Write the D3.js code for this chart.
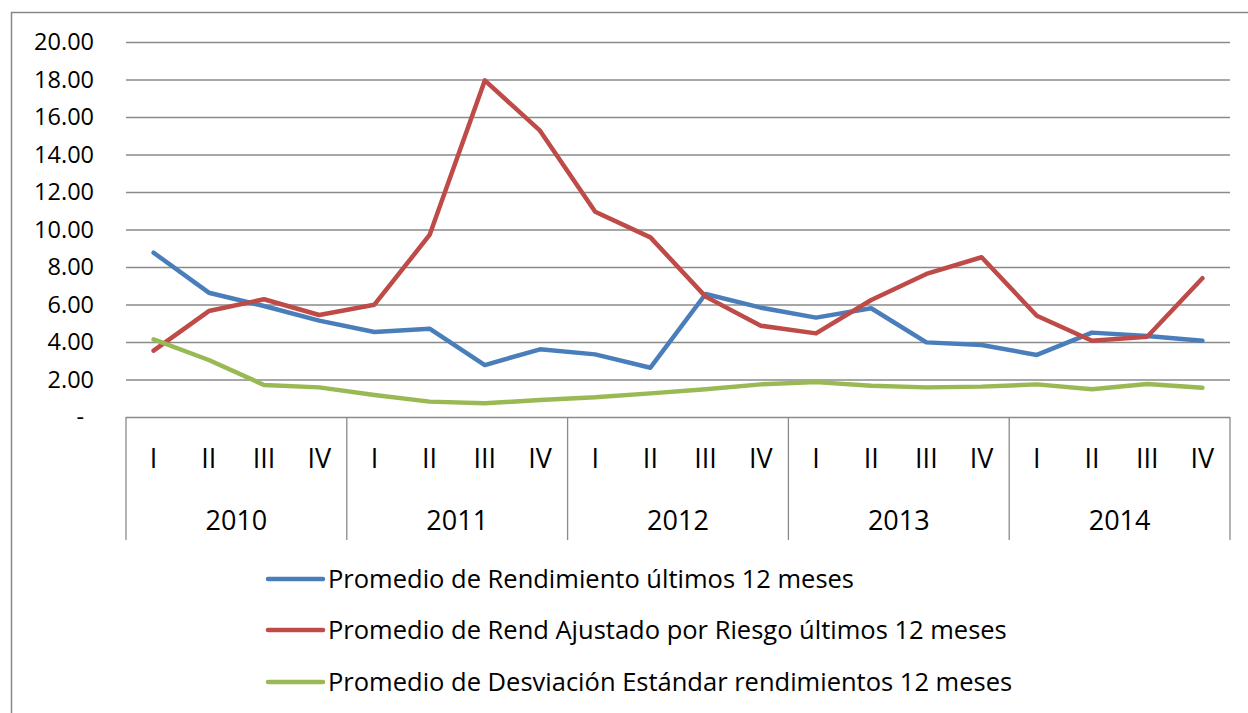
<!DOCTYPE html>
<html>
<head>
<meta charset="utf-8">
<script src="https://cdn.jsdelivr.net/npm/d3@7/dist/d3.min.js"></script>
<style>
  html, body { margin: 0; padding: 0; background: #fff; }
  svg { display: block; }
  text { font-family: "Open Sans", "Noto Sans", sans-serif; fill: #000; }
</style>
</head>
<body>
<svg id="chart" width="1248" height="713"></svg>
<script>
// ---- data ----
const years = ["2010", "2011", "2012", "2013", "2014"];
const quarters = ["I", "II", "III", "IV"];
const seriesNames = [
  "Promedio de Rendimiento últimos 12 meses",
  "Promedio de Rend Ajustado por Riesgo últimos 12 meses",
  "Promedio de Desviación Estándar rendimientos 12 meses"
];
const rendimiento = [8.76, 6.63, 5.92, 5.14, 4.53, 4.71, 2.77, 3.61, 3.34, 2.63,
                     6.56, 5.83, 5.30, 5.80, 3.98, 3.84, 3.31, 4.50, 4.32, 4.07];
const rendAjustado = [3.54, 5.65, 6.28, 5.44, 5.99, 9.71, 17.95, 15.27, 10.95, 9.58,
                      6.42, 4.87, 4.46, 6.24, 7.63, 8.52, 5.40, 4.07, 4.28, 7.40];
const desviacion = [4.14, 3.04, 1.71, 1.58, 1.17, 0.82, 0.73, 0.91, 1.05, 1.26,
                    1.48, 1.74, 1.86, 1.67, 1.58, 1.62, 1.74, 1.48, 1.76, 1.56];
const yTicks = [0, 2, 4, 6, 8, 10, 12, 14, 16, 18, 20];
const colors = ["#4A7EBB", "#BE4B48", "#98B954"];

// ---- layout ----
const svg = d3.select("#chart");
const plot = { left: 126, right: 1230, top: 42, bottom: 417 };
const categories = [];
years.forEach(y => quarters.forEach(q => categories.push(y + "-" + q)));

const x = d3.scaleBand().domain(categories).range([plot.left, plot.right]).padding(0);
const y = d3.scaleLinear().domain([0, 20]).range([plot.bottom, plot.top]);
const cx = c => x(c) + x.bandwidth() / 2;

// chart border (left and top visible)
svg.append("path")
  .attr("d", "M11.5,713 V12.5 H1248")
  .attr("fill", "none")
  .attr("stroke", "#878787")
  .attr("stroke-width", 1.5);

// y axis with gridlines
const yAxis = d3.axisLeft(y)
  .tickValues(yTicks)
  .tickSizeInner(-(plot.right - plot.left))
  .tickSizeOuter(0)
  .tickPadding(32)
  .tickFormat(v => v === 0 ? "-" : d3.format(".2f")(v));

const gy = svg.append("g")
  .attr("transform", `translate(${plot.left},0)`)
  .call(yAxis);
gy.select(".domain").remove();
gy.selectAll(".tick line").attr("stroke", "#8a8a8a").attr("stroke-width", 1.3);
gy.selectAll(".tick text")
  .attr("font-size", "23.5px")
  .attr("font-family", "Open Sans")
  .attr("fill", "#000")
  .attr("dx", v => v === 0 ? "-10" : null);

// category axis: year group separators
const groupEdges = years.map(yr => x(yr + "-I")).concat([plot.right]);
svg.append("g").selectAll("line")
  .data(groupEdges)
  .join("line")
  .attr("x1", d => d).attr("x2", d => d)
  .attr("y1", plot.bottom).attr("y2", 540)
  .attr("stroke", "#8a8a8a").attr("stroke-width", 1.3);

// quarter labels
svg.append("g").selectAll("text")
  .data(categories)
  .join("text")
  .attr("x", d => cx(d))
  .attr("y", 458)
  .attr("dy", "0.36em")
  .attr("text-anchor", "middle")
  .attr("font-size", "27px")
  .text(d => d.split("-")[1]);

// year labels
svg.append("g").selectAll("text")
  .data(years)
  .join("text")
  .attr("x", yr => (x(yr + "-I") + x(yr + "-IV") + x.bandwidth()) / 2)
  .attr("y", 520)
  .attr("dy", "0.36em")
  .attr("text-anchor", "middle")
  .attr("font-size", "27px")
  .text(yr => yr);

// series lines
const allSeries = [rendimiento, rendAjustado, desviacion];
const line = d3.line().x((d, i) => cx(categories[i])).y(d => y(d));
// draw order: green, blue, red? Excel draws in series order
allSeries.forEach((s, k) => {
  svg.append("path")
    .datum(s)
    .attr("d", line)
    .attr("fill", "none")
    .attr("stroke", colors[k])
    .attr("stroke-width", 4.5)
    .attr("stroke-linecap", "round")
    .attr("stroke-linejoin", "round");
});

// legend
const legendY = [579, 630, 682];
const lg = svg.append("g");
seriesNames.forEach((name, k) => {
  lg.append("line")
    .attr("x1", 268).attr("x2", 323)
    .attr("y1", legendY[k]).attr("y2", legendY[k])
    .attr("stroke", colors[k])
    .attr("stroke-width", 4.5)
    .attr("stroke-linecap", "round");
  lg.append("text")
    .attr("x", 328)
    .attr("y", legendY[k])
    .attr("dy", "0.36em")
    .attr("font-size", "25.5px")
    .text(name);
});
</script>
</body>
</html>
